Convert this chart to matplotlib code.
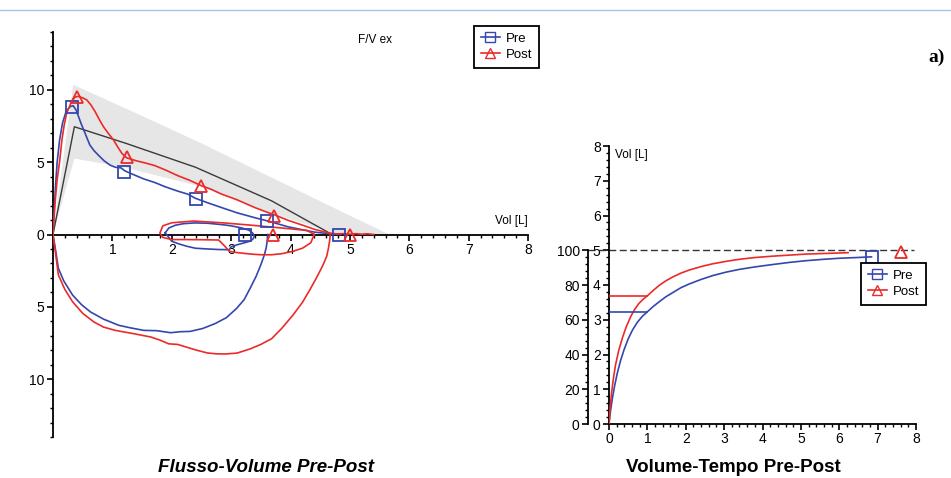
import numpy as np
import matplotlib
matplotlib.use('Agg')
import matplotlib.pyplot as plt
from matplotlib.lines import Line2D
from matplotlib.ticker import MultipleLocator, FuncFormatter, FixedLocator

plt.rcParams['font.family'] = ['Liberation Sans', 'DejaVu Sans']

BLUE = '#3447ad'
RED = '#ec2a2a'

# ---- Flusso-Volume data (vol [L], flow [L/s]) ----
pre_exp_x = [0, 0.02, 0.04, 0.07, 0.11, 0.16, 0.22, 0.29, 0.34, 0.39, 0.43, 0.48, 0.54, 0.62,
             0.69, 0.76, 0.86, 0.96, 1.05, 1.15, 1.21, 1.35, 1.53, 1.71, 1.89, 2.1, 2.27, 2.4,
             2.6, 2.84, 3.1, 3.4, 3.62, 3.8, 3.96, 4.2, 4.41, 4.6, 4.75, 4.84]
pre_exp_y = [0, 1.5, 3.2, 5.0, 6.5, 7.7, 8.5, 8.85, 8.9, 8.6, 8.15, 7.6, 7.0, 6.19,
             5.8, 5.5, 5.1, 4.8, 4.65, 4.6, 4.4, 4.15, 3.84, 3.6, 3.3, 3.0, 2.79, 2.5,
             2.2, 1.86, 1.5, 1.16, 0.93, 0.72, 0.53, 0.33, 0.16, 0.08, 0.04, 0]

post_exp_x = [0, 0.03, 0.07, 0.11, 0.15, 0.19, 0.23, 0.31, 0.37, 0.42, 0.5, 0.57, 0.64, 0.71,
              0.78, 0.85, 0.93, 1.02, 1.09, 1.16, 1.24, 1.4, 1.55, 1.71, 1.9, 2.1, 2.3, 2.5,
              2.65, 2.84, 3.1, 3.4, 3.6, 3.75, 3.96, 4.2, 4.41, 4.6, 4.69, 4.8, 4.9, 5.0,
              5.1, 5.2, 5.3, 5.4]
post_exp_y = [0, 2.0, 3.8, 5.0, 6.53, 7.6, 8.38, 9.18, 9.5, 9.55, 9.45, 9.3, 8.95, 8.49,
              7.95, 7.45, 7.0, 6.53, 6.05, 5.61, 5.3, 5.1, 4.95, 4.77, 4.45, 4.07, 3.75, 3.37,
              3.15, 2.79, 2.4, 1.86, 1.55, 1.33, 0.98, 0.65, 0.35, 0.15, 0.07, 0.04, 0.06, 0.02,
              0.06, 0.02, 0.05, 0.0]

pre_insp_x = [0, 0.04, 0.09, 0.18, 0.33, 0.48, 0.63, 0.85, 1.11, 1.3, 1.53, 1.75, 1.98, 2.15,
              2.31, 2.52, 2.73, 2.92, 3.09, 3.22, 3.32, 3.42, 3.5, 3.56, 3.59, 3.61, 3.62]
pre_insp_y = [0, -1.0, -2.33, -3.2, -4.19, -4.85, -5.35, -5.85, -6.28, -6.45, -6.63, -6.65, -6.79, -6.72,
              -6.7, -6.5, -6.16, -5.75, -5.12, -4.5, -3.72, -2.9, -2.1, -1.4, -0.93, -0.4, 0]

post_insp_x = [0, 0.04, 0.09, 0.2, 0.33, 0.5, 0.69, 0.85, 1.05, 1.35, 1.65, 1.8, 1.95, 2.1,
               2.25, 2.42, 2.6, 2.75, 2.9, 3.1, 3.32, 3.5, 3.68, 3.85, 4.04, 4.2, 4.34, 4.45,
               4.55, 4.61, 4.64, 4.66, 4.67]
post_insp_y = [0, -1.2, -2.79, -3.8, -4.65, -5.45, -6.05, -6.4, -6.63, -6.85, -7.09, -7.3, -7.56, -7.6,
               -7.79, -8.0, -8.19, -8.25, -8.26, -8.2, -7.91, -7.6, -7.21, -6.5, -5.58, -4.7, -3.72, -2.9,
               -2.09, -1.5, -0.93, -0.4, 0]

pre_tidal_x = [1.89, 1.95, 2.06, 2.2, 2.39, 2.6, 2.83, 3.0, 3.17, 3.3, 3.36, 3.39, 3.37, 3.33,
               3.2, 3.11, 3.0, 2.97, 2.8, 2.6, 2.4, 2.25, 2.12, 2.0, 1.94, 1.89]
pre_tidal_y = [0.11, 0.45, 0.64, 0.75, 0.8, 0.78, 0.69, 0.6, 0.46, 0.3, 0.11, -0.1, -0.3, -0.45,
               -0.6, -0.7, -0.85, -1.05, -1.04, -1.0, -0.95, -0.81, -0.65, -0.47, -0.15, 0.11]

post_tidal_x = [4.4, 4.34, 4.2, 4.04, 3.85, 3.68, 3.5, 3.32, 3.1, 2.97, 2.88, 2.79, 2.5, 2.2,
                2.0, 1.85, 1.8, 1.85, 2.0, 2.37, 2.85, 3.32, 3.8, 4.28, 4.4]
post_tidal_y = [0, -0.58, -0.95, -1.16, -1.33, -1.4, -1.4, -1.35, -1.25, -1.16, -0.75, -0.38, -0.36, -0.35,
                -0.35, -0.2, 0.1, 0.6, 0.81, 0.93, 0.81, 0.65, 0.47, 0.28, 0]

pred_x = [0, 0.36, 1.23, 2.4, 3.68, 4.7]
pred_y = [0, 7.45, 6.3, 4.65, 2.33, 0]

band_up_x = [0, 0.34, 1.5, 2.5, 3.6, 4.6, 5.66]
band_up_y = [0, 10.35, 8.2, 6.3, 4.1, 2.1, 0]
band_lo_x = [4.7, 4.65, 3.7, 2.5, 1.2, 0.36, 0]
band_lo_y = [0, 0.2, 1.45, 3.3, 4.65, 5.25, 0]

pre_mk_x = [0.32, 1.2, 2.4, 3.61, 4.82, 3.23]
pre_mk_y = [8.84, 4.35, 2.44, 0.93, 0.0, 0.0]
post_mk_x = [0.4, 1.24, 2.5, 3.73, 5.0, 3.7]
post_mk_y = [9.53, 5.34, 3.37, 1.3, 0.0, -0.05]

# ---- Volume-Tempo data (time [s], vol [L]) ----
pre_vt_t = [0, 0.04, 0.09, 0.15, 0.22, 0.3, 0.39, 0.5, 0.61, 0.74, 0.87, 1.0, 1.15, 1.31, 1.48,
            1.66, 1.87, 2.09, 2.4, 2.7, 3.05, 3.4, 3.8, 4.27, 4.7, 5.14, 5.6, 6.01, 6.45, 6.84]
pre_vt_v = [0, 0.38, 0.75, 1.12, 1.48, 1.82, 2.13, 2.45, 2.7, 2.93, 3.1, 3.23, 3.38, 3.52, 3.66,
            3.78, 3.92, 4.03, 4.16, 4.27, 4.37, 4.45, 4.52, 4.59, 4.65, 4.7, 4.74, 4.77, 4.79, 4.81]
post_vt_t = [0, 0.03, 0.07, 0.12, 0.17, 0.25, 0.35, 0.45, 0.57, 0.67, 0.78, 0.9, 1.0, 1.18, 1.31,
             1.48, 1.66, 1.87, 2.09, 2.4, 2.7, 3.05, 3.4, 3.8, 4.27, 4.7, 5.14, 5.7, 6.23]
post_vt_v = [0, 0.48, 0.93, 1.35, 1.7, 2.1, 2.48, 2.8, 3.1, 3.3, 3.47, 3.6, 3.69, 3.87, 3.99,
             4.12, 4.23, 4.34, 4.43, 4.53, 4.61, 4.68, 4.74, 4.79, 4.83, 4.86, 4.89, 4.91, 4.93]
pre_fev1 = 3.23
post_fev1 = 3.69
pre_vt_mk = (6.86, 4.81)
post_vt_mk = (7.6, 4.96)
fvc_ref = 5.0

fig = plt.figure(figsize=(9.51, 4.78), dpi=100)

# top rule
fig.add_artist(Line2D([0, 1], [1 - 10 / 478] * 2, transform=fig.transFigure, color='#a8c2e2', lw=1))

# ---------------- left: flow-volume ----------------
ax = fig.add_axes([53 / 951, 41 / 478, 475 / 951, 405 / 478])
ax.set_xlim(0, 8)
ax.set_ylim(-14, 14)
ax.patch.set_visible(False)
for s in ['top', 'right']:
    ax.spines[s].set_visible(False)
ax.spines['left'].set_position(('data', 0))
ax.spines['bottom'].set_position(('data', 0))
ax.spines['left'].set_linewidth(1.3)
ax.spines['bottom'].set_linewidth(1.3)

ax.fill(band_up_x + band_lo_x, band_up_y + band_lo_y, color='#e6e6e6', lw=0, zorder=1)
ax.plot(pred_x, pred_y, color='#3a3a3a', lw=1.0, zorder=2)

kw = dict(lw=1.2, zorder=3)
ax.plot(pre_exp_x, pre_exp_y, color=BLUE, **kw)
ax.plot(pre_insp_x, pre_insp_y, color=BLUE, **kw)
ax.plot(pre_tidal_x, pre_tidal_y, color=BLUE, **kw)
ax.plot(post_exp_x, post_exp_y, color=RED, **kw)
ax.plot(post_insp_x, post_insp_y, color=RED, **kw)
ax.plot(post_tidal_x, post_tidal_y, color=RED, **kw)
ax.plot(pre_mk_x, pre_mk_y, ls='none', marker='s', ms=8, mfc='none', mec=BLUE, mew=1.3, zorder=4)
ax.plot(post_mk_x, post_mk_y, ls='none', marker='^', ms=8, mfc='none', mec=RED, mew=1.3, zorder=4)

ax.xaxis.set_major_locator(FixedLocator(range(0, 9)))
ax.xaxis.set_major_formatter(FuncFormatter(lambda v, p: '' if v == 0 else f'{v:g}'))
ax.xaxis.set_minor_locator(MultipleLocator(0.2))
ax.yaxis.set_major_locator(FixedLocator([-10, -5, 0, 5, 10]))
ax.yaxis.set_major_formatter(FuncFormatter(lambda v, p: f'{abs(v):g}'))
ax.yaxis.set_minor_locator(MultipleLocator(1))
ax.tick_params(axis='both', which='major', direction='out', length=4, width=1.2, labelsize=10, pad=2)
ax.tick_params(axis='both', which='minor', direction='out', length=2.5, width=1)

ax.text(5.42, 13.45, 'F/V ex', fontsize=8.5, ha='center', va='center')
ax.text(8, 0.5, 'Vol [L]', fontsize=8.5, ha='right', va='bottom')

h_pre = Line2D([], [], color=BLUE, marker='s', mfc='none', ms=7.5, lw=1.2)
h_post = Line2D([], [], color=RED, marker='^', mfc='none', ms=7.5, lw=1.2)
leg_kw = dict(fancybox=False, edgecolor='black', framealpha=1, fontsize=9.5,
              handlelength=1.5, handletextpad=0.45, labelspacing=0.3, borderpad=0.5,
              borderaxespad=0, loc='upper left')
leg = ax.legend([h_pre, h_post], ['Pre', 'Post'],
                bbox_to_anchor=(474 / 951, 1 - 26 / 478), bbox_transform=fig.transFigure, **leg_kw)
leg.get_frame().set_linewidth(1.3)

# ---------------- right: volume-time ----------------
ar = fig.add_axes([609 / 951, 54 / 478, 307 / 951, 278 / 478])
ar.set_xlim(0, 8)
ar.set_ylim(0, 8)
ar.patch.set_visible(False)
for s in ['top', 'right']:
    ar.spines[s].set_visible(False)
for s in ['left', 'bottom']:
    ar.spines[s].set_linewidth(1.3)

ar.plot([-0.55, 7.95], [fvc_ref, fvc_ref], color='#333333', lw=1.0, dashes=(5, 2.5), clip_on=False, zorder=2)
ar.plot(pre_vt_t, pre_vt_v, color=BLUE, lw=1.2, zorder=3)
ar.plot(post_vt_t, post_vt_v, color=RED, lw=1.2, zorder=3)
ar.plot([0, 1], [pre_fev1, pre_fev1], color=BLUE, lw=1.2, zorder=3)
ar.plot([0, 1], [post_fev1, post_fev1], color=RED, lw=1.2, zorder=3)
ar.plot(*pre_vt_mk, ls='none', marker='s', ms=8, mfc='none', mec=BLUE, mew=1.3, zorder=4)
ar.plot(*post_vt_mk, ls='none', marker='^', ms=8, mfc='none', mec=RED, mew=1.3, zorder=4, clip_on=False)

ar.xaxis.set_major_locator(MultipleLocator(1))
ar.xaxis.set_minor_locator(MultipleLocator(0.2))
ar.yaxis.set_major_locator(MultipleLocator(1))
ar.yaxis.set_minor_locator(MultipleLocator(0.2))
ar.tick_params(axis='both', which='major', direction='out', length=4, width=1.2, labelsize=10, pad=2)
ar.tick_params(axis='both', which='minor', direction='out', length=2.5, width=1)
ar.text(0.15, 7.75, 'Vol [L]', fontsize=8.5, ha='left', va='center')

ap = ar.twinx()
ap.set_ylim(0, 160)
for s in ['top', 'right', 'bottom']:
    ap.spines[s].set_visible(False)
ap.spines['left'].set_visible(True)
ap.spines['left'].set_position(('outward', 21 * 0.72))
ap.spines['left'].set_bounds(0, 100)
ap.spines['left'].set_linewidth(1.3)
ap.yaxis.set_ticks_position('left')
ap.yaxis.set_label_position('left')
ap.yaxis.set_major_locator(FixedLocator([0, 20, 40, 60, 80, 100]))
ap.yaxis.set_minor_locator(FixedLocator(np.arange(0, 101, 4)))
ap.tick_params(axis='y', which='major', direction='out', length=4, width=1.2, labelsize=10, pad=2)
ap.tick_params(axis='y', which='minor', direction='out', length=2.5, width=1)

leg2 = ar.legend([h_pre, h_post], ['Pre', 'Post'],
                 bbox_to_anchor=(861 / 951, 1 - 263 / 478), bbox_transform=fig.transFigure, **leg_kw)
leg2.get_frame().set_linewidth(1.3)

# titles
fig.text(266 / 951, 1 - 467 / 478, 'Flusso-Volume Pre-Post', fontsize=13.5, weight='bold',
         style='italic', ha='center', va='center')
fig.text(733 / 951, 1 - 467 / 478, 'Volume-Tempo Pre-Post', fontsize=13.5, weight='bold',
         ha='center', va='center')
fig.text(937 / 951, 1 - 57 / 478, 'a)', fontsize=14, weight='bold', family='Liberation Serif',
         ha='center', va='center')

fig.savefig('out.png', dpi=100)
